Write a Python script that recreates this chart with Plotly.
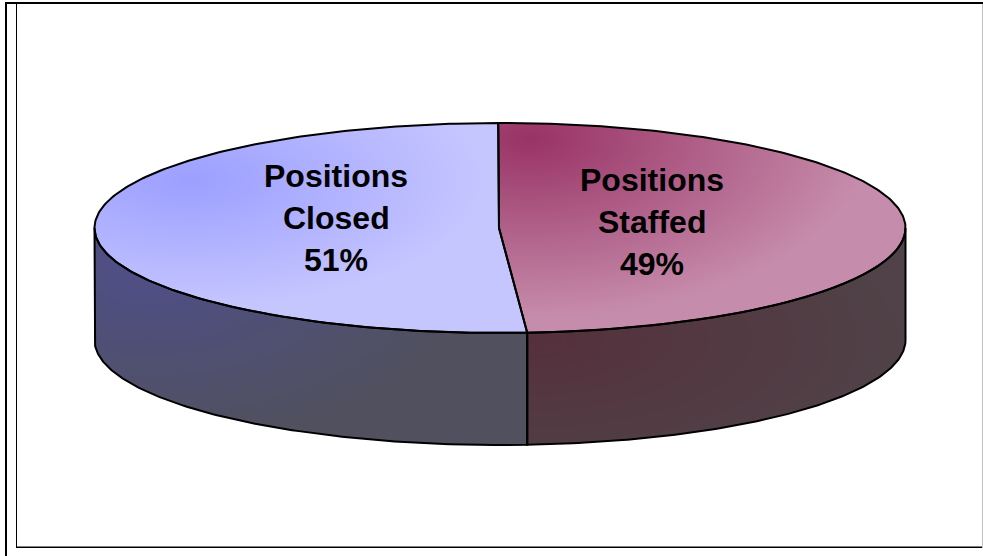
import numpy as np
import plotly.graph_objects as go

categories = ["Positions Staffed", "Positions Closed"]
values = [49, 51]
label_lines = [["Positions", "Staffed"], ["Positions", "Closed"]]

W, H = 983, 556
CX, CY, A, B, DEPTH = 500, 228, 405.5, 105, 112
ROT = np.radians(-0.25)


def pt(t):
    return CX + A * np.sin(t), CY - B * np.cos(t)


fractions = np.array(values, dtype=float) / sum(values)
split = ROT + 2 * np.pi * fractions[0]

xs = np.arange(94, 907) + 0.5
ys = np.arange(122, 447) + 0.5
X, Y = np.meshgrid(xs, ys)
U = (X - CX) / A
V = (Y - CY) / B
inside = U**2 + V**2 <= 1.0
theta = np.mod(np.arctan2(U, -V) - ROT, 2 * np.pi)
first = theta < (split - ROT)
lower = CY + B * np.sqrt(np.clip(1 - U**2, 0, 1))
side = (np.abs(U) <= 1) & (Y >= lower - 1) & (Y <= lower + DEPTH)
seam_x = pt(split)[0]


def grad(fx, fy, gx, gy):
    return np.clip(np.hypot((X - fx) / gx, (Y - fy) / gy), 0, 1)


def layer(t, mask, c0, c1):
    z = np.where(mask, np.round(t, 3), np.nan)
    return go.Heatmap(x=xs, y=ys, z=z, zmin=0, zmax=1, showscale=False, hoverinfo="skip",
                      colorscale=[[0, c0], [1, c1]])


fig = go.Figure()
fig.add_trace(layer(grad(150, 270, 320, 170), side & (X < seam_x), "#4f4f88", "#50505f"))
fig.add_trace(layer(grad(530, 340, 380, 150), side & (X >= seam_x), "#55303c", "#504248"))
fig.add_trace(layer(grad(530, 138, 340, 180), inside & first, "#993366", "#c68cab"))
fig.add_trace(layer(grad(190, 180, 300, 130), inside & ~first, "#9c9fff", "#c6c6ff"))


def outline(px, py):
    fig.add_trace(go.Scatter(x=px, y=py, mode="lines", hoverinfo="skip", showlegend=False,
                             line=dict(color="black", width=2)))


# Side walls
for t0, t1 in [(np.pi / 2, split), (split, 3 * np.pi / 2)]:
    t = np.linspace(t0, t1, 120)
    ax, ay = pt(t)
    outline(np.r_[ax, ax[::-1], ax[0]], np.r_[ay, ay[::-1] + DEPTH, ay[0]])

# Top sectors
for t0, t1 in [(ROT, split), (split, ROT + 2 * np.pi)]:
    t = np.linspace(t0, t1, 240)
    ax, ay = pt(t)
    outline(np.r_[CX - 1, ax, CX - 1], np.r_[CY, ay, CY])

label_pos = [(652, 180), (336, 176)]
annotations = []
for lines, v, (lx, ly) in zip(label_lines, values, label_pos):
    for i, s in enumerate(lines + [f"{v}%"]):
        annotations.append(dict(x=lx, y=ly + 42 * i, text=f"<b>{s}</b>", showarrow=False,
                                xanchor="center", yanchor="middle", xref="x", yref="y",
                                font=dict(family="Liberation Sans", size=32, color="black")))

frame = [
    (5, 2, 983, 4, "black"),
    (5, 2, 7, 556, "black"),
    (16, 4, 17, 548, "black"),
    (16, 546.5, 982, 548, "black"),
    (982, 4, 983, 548, "#c0c0c0"),
]
shapes = [dict(type="rect", xref="x", yref="y", x0=a, y0=b, x1=c, y1=d, fillcolor=col,
               line=dict(width=0), layer="above") for a, b, c, d, col in frame]

fig.update_layout(
    width=W, height=H, margin=dict(l=0, r=0, t=0, b=0), showlegend=False,
    paper_bgcolor="white", plot_bgcolor="white",
    xaxis=dict(range=[0, W], visible=False, fixedrange=True),
    yaxis=dict(range=[H, 0], visible=False, fixedrange=True),
    annotations=annotations, shapes=shapes,
)
fig.write_html("out.html", config=dict(displayModeBar=False),
               post_script="document.body.style.margin='0';document.documentElement.style.overflow='hidden';")
